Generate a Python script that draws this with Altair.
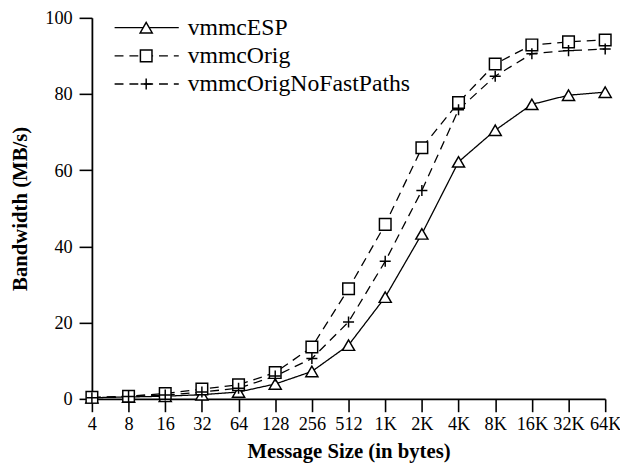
import altair as alt
import pandas as pd

sizes = ["4", "8", "16", "32", "64", "128", "256", "512", "1K", "2K", "4K", "8K", "16K", "32K", "64K"]
vmmc_esp = [0.3, 0.5, 0.7, 1.1, 1.8, 3.9, 7.2, 14.1, 26.7, 43.3, 62.2, 70.5, 77.3, 79.7, 80.5]
vmmc_orig = [0.4, 0.7, 1.4, 2.6, 3.7, 6.9, 13.6, 28.9, 45.8, 65.9, 77.8, 87.9, 92.9, 93.7, 94.2]
vmmc_nofast = [0.3, 0.6, 1.0, 1.8, 2.8, 6.0, 10.6, 20.2, 36.1, 54.7, 75.9, 84.7, 90.6, 91.4, 91.8]
series = ["vmmcESP", "vmmcOrig", "vmmcOrigNoFastPaths"]
y_ticks = [0, 20, 40, 60, 80, 100]

rows = []
for name, vals in zip(series, [vmmc_esp, vmmc_orig, vmmc_nofast]):
    for s, v in zip(sizes, vals):
        rows.append({"size": s, "bw": v, "series": name})
df = pd.DataFrame(rows)
leg = pd.DataFrame({"series": series, "row": [0, 1, 2]})

FONT = "Liberation Serif"
shape_scale = alt.Scale(domain=series, range=["triangle-up", "square", "M-1,0H1M0,-1V1"])
size_scale = alt.Scale(domain=series, range=[150, 125, 170])
dash_scale = alt.Scale(domain=series, range=[[1, 0], [9, 6], [9, 6]])
fill_scale = alt.Scale(domain=series, range=["white", "white", "transparent"])

x_enc = alt.X("size:O", sort=sizes, title="Message Size (in bytes)",
              scale=alt.Scale(type="point", padding=0),
              axis=alt.Axis(labelAngle=0, tickSize=13, labelPadding=3, titlePadding=8))
y_enc = alt.Y("bw:Q", title="Bandwidth (MB/s)",
              scale=alt.Scale(domain=[0, 100], nice=False, zero=True),
              axis=alt.Axis(values=y_ticks, tickSize=13, labelPadding=7, titlePadding=15, grid=False))

base = alt.Chart(df)
lines = base.mark_line(color="black", strokeWidth=1.3).encode(
    x=x_enc, y=y_enc,
    detail="series:N",
    strokeDash=alt.StrokeDash("series:N", scale=dash_scale, legend=None),
)
points = base.mark_point(color="black", strokeWidth=1.5, opacity=1).encode(
    x=x_enc, y=y_enc,
    shape=alt.Shape("series:N", scale=shape_scale, legend=None),
    size=alt.Size("series:N", scale=size_scale, legend=None),
    fill=alt.Fill("series:N", scale=fill_scale, legend=None),
    order=alt.Order("series:N"),
)
main = alt.layer(lines, points)

leg_y = alt.Y("row:Q", scale=alt.Scale(domain=[0, 2], range=[10, 67], nice=False, zero=False), axis=None)
lbase = alt.Chart(leg)
leg_rule = lbase.mark_rule(color="black", strokeWidth=1.3).encode(
    x=alt.value(23), x2=alt.value(88), y=leg_y,
    strokeDash=alt.StrokeDash("series:N", scale=dash_scale, legend=None),
)
leg_pts = lbase.mark_point(color="black", strokeWidth=1.5, opacity=1).encode(
    x=alt.value(55), y=leg_y,
    shape=alt.Shape("series:N", scale=shape_scale, legend=None),
    size=alt.Size("series:N", scale=size_scale, legend=None),
    fill=alt.Fill("series:N", scale=fill_scale, legend=None),
)
leg_txt = lbase.mark_text(align="left", baseline="middle", font=FONT, fontSize=24, color="black").encode(
    x=alt.value(97), y=leg_y, text="series:N",
)
legend = alt.layer(leg_rule, leg_pts, leg_txt)

chart = alt.layer(main, legend).resolve_scale(y="independent").properties(
    width=520, height=386,
    autosize=alt.AutoSizeParams(type="none"),
    padding={"left": 85, "top": 7, "right": 15, "bottom": 63},
).configure_view(stroke=None).configure_axis(
    domainColor="black", domainWidth=1.8, tickColor="black", tickWidth=1.6,
    labelFont=FONT, labelFontSize=18.5, labelColor="black",
    titleFont=FONT, titleFontSize=21, titleFontWeight="bold", titleColor="black",
)

chart.save("out.html", embed_options={"renderer": "svg", "actions": False})
